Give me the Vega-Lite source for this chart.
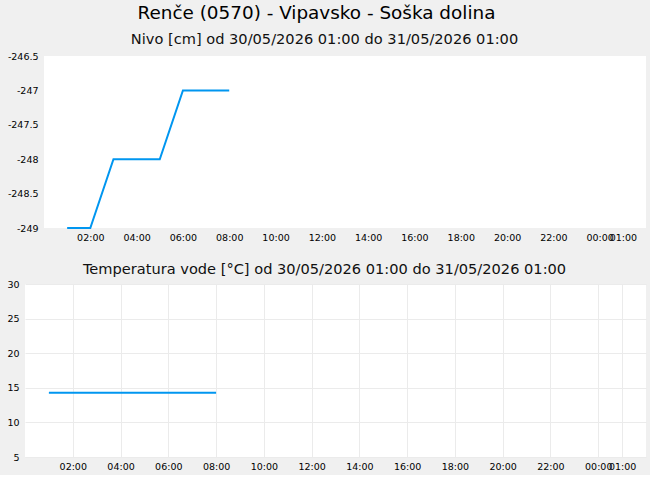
{
  "$schema": "https://vega.github.io/schema/vega-lite/v6.json",
  "background": "#f0f0f0",
  "padding": {"left": 6, "top": 4, "right": 5, "bottom": 4},
  "title": {
    "text": "Renče (0570) - Vipavsko - Soška dolina",
    "font": "DejaVu Sans",
    "fontSize": 18.4,
    "fontWeight": "normal",
    "color": "#000000",
    "anchor": "middle",
    "dx": -10,
    "offset": 10
  },
  "datasets": {
    "nivo": [
      {"cas": "2026-05-30T01:00:00", "nivo": -249},
      {"cas": "2026-05-30T02:00:00", "nivo": -249},
      {"cas": "2026-05-30T03:00:00", "nivo": -248},
      {"cas": "2026-05-30T04:00:00", "nivo": -248},
      {"cas": "2026-05-30T05:00:00", "nivo": -248},
      {"cas": "2026-05-30T06:00:00", "nivo": -247},
      {"cas": "2026-05-30T07:00:00", "nivo": -247},
      {"cas": "2026-05-30T08:00:00", "nivo": -247}
    ],
    "temp": [
      {"cas": "2026-05-30T01:00:00", "temp": 14.3},
      {"cas": "2026-05-30T02:00:00", "temp": 14.3},
      {"cas": "2026-05-30T03:00:00", "temp": 14.3},
      {"cas": "2026-05-30T04:00:00", "temp": 14.3},
      {"cas": "2026-05-30T05:00:00", "temp": 14.3},
      {"cas": "2026-05-30T06:00:00", "temp": 14.3},
      {"cas": "2026-05-30T07:00:00", "temp": 14.3},
      {"cas": "2026-05-30T08:00:00", "temp": 14.3}
    ]
  },
  "spacing": 20,
  "vconcat": [
    {
      "title": {"text": "Nivo [cm] od 30/05/2026 01:00 do 31/05/2026 01:00", "offset": 4, "dx": -11},
      "width": 621,
      "height": 172,
      "view": {"fill": null, "stroke": null},
      "layer": [
        {
          "data": {"values": [{}]},
          "mark": {"type": "rect", "color": "#ffffff"},
          "encoding": {
            "x": {
              "datum": {"year": 2026, "month": 5, "date": 30, "hours": 0},
              "type": "temporal",
              "title": null,
              "scale": {
                "domain": [
                  {"year": 2026, "month": 5, "date": 29, "hours": 23, "minutes": 10, "seconds": 46},
                  {"year": 2026, "month": 5, "date": 31, "hours": 2}
                ]
              },
              "axis": {
                "zindex": 1,
                "format": "%H:%M",
                "values": [
                  {"year": 2026, "month": 5, "date": 30, "hours": 2},
                  {"year": 2026, "month": 5, "date": 30, "hours": 4},
                  {"year": 2026, "month": 5, "date": 30, "hours": 6},
                  {"year": 2026, "month": 5, "date": 30, "hours": 8},
                  {"year": 2026, "month": 5, "date": 30, "hours": 10},
                  {"year": 2026, "month": 5, "date": 30, "hours": 12},
                  {"year": 2026, "month": 5, "date": 30, "hours": 14},
                  {"year": 2026, "month": 5, "date": 30, "hours": 16},
                  {"year": 2026, "month": 5, "date": 30, "hours": 18},
                  {"year": 2026, "month": 5, "date": 30, "hours": 20},
                  {"year": 2026, "month": 5, "date": 30, "hours": 22},
                  {"year": 2026, "month": 5, "date": 31, "hours": 0},
                  {"year": 2026, "month": 5, "date": 31, "hours": 1}
                ]
              }
            },
            "x2": {"datum": {"year": 2026, "month": 5, "date": 31, "hours": 2}},
            "y": {
              "datum": -249,
              "type": "quantitative",
              "title": null,
              "scale": {"domain": [-249, -246.5], "nice": false, "zero": false},
              "axis": {
                "zindex": 1,
                "offset": -19,
                "values": [-249, -248.5, -248, -247.5, -247, -246.5],
                "format": "~g",
                "labelExpr": "replace(datum.label, '\u2212', '-')"
              }
            },
            "y2": {"datum": -246.5}
          }
        },
        {
          "data": {"name": "nivo"},
          "mark": {"type": "line", "color": "#0096f0", "strokeWidth": 2},
          "encoding": {
            "x": {
              "field": "cas",
              "type": "temporal",
              "title": null,
              "scale": {
                "domain": [
                  {"year": 2026, "month": 5, "date": 29, "hours": 23, "minutes": 10, "seconds": 46},
                  {"year": 2026, "month": 5, "date": 31, "hours": 2}
                ]
              },
              "axis": {
                "zindex": 1,
                "format": "%H:%M",
                "values": [
                  {"year": 2026, "month": 5, "date": 30, "hours": 2},
                  {"year": 2026, "month": 5, "date": 30, "hours": 4},
                  {"year": 2026, "month": 5, "date": 30, "hours": 6},
                  {"year": 2026, "month": 5, "date": 30, "hours": 8},
                  {"year": 2026, "month": 5, "date": 30, "hours": 10},
                  {"year": 2026, "month": 5, "date": 30, "hours": 12},
                  {"year": 2026, "month": 5, "date": 30, "hours": 14},
                  {"year": 2026, "month": 5, "date": 30, "hours": 16},
                  {"year": 2026, "month": 5, "date": 30, "hours": 18},
                  {"year": 2026, "month": 5, "date": 30, "hours": 20},
                  {"year": 2026, "month": 5, "date": 30, "hours": 22},
                  {"year": 2026, "month": 5, "date": 31, "hours": 0},
                  {"year": 2026, "month": 5, "date": 31, "hours": 1}
                ]
              }
            },
            "y": {
              "field": "nivo",
              "type": "quantitative",
              "title": null,
              "scale": {"domain": [-249, -246.5], "nice": false, "zero": false},
              "axis": {
                "zindex": 1,
                "offset": -19,
                "values": [-249, -248.5, -248, -247.5, -247, -246.5],
                "format": "~g",
                "labelExpr": "replace(datum.label, '\u2212', '-')"
              }
            }
          }
        }
      ]
    },
    {
      "title": {"text": "Temperatura vode [°C] od 30/05/2026 01:00 do 31/05/2026 01:00", "offset": 2, "dx": -11},
      "width": 621,
      "height": 173,
      "data": {"name": "temp"},
      "mark": {"type": "line", "color": "#0096f0", "strokeWidth": 2},
      "encoding": {
        "x": {
          "field": "cas",
          "type": "temporal",
          "title": null,
          "scale": {
            "domain": [
              {"year": 2026, "month": 5, "date": 30, "hours": 0},
              {"year": 2026, "month": 5, "date": 31, "hours": 2}
            ]
          },
          "axis": {
            "format": "%H:%M",
            "values": [
              {"year": 2026, "month": 5, "date": 30, "hours": 2},
              {"year": 2026, "month": 5, "date": 30, "hours": 4},
              {"year": 2026, "month": 5, "date": 30, "hours": 6},
              {"year": 2026, "month": 5, "date": 30, "hours": 8},
              {"year": 2026, "month": 5, "date": 30, "hours": 10},
              {"year": 2026, "month": 5, "date": 30, "hours": 12},
              {"year": 2026, "month": 5, "date": 30, "hours": 14},
              {"year": 2026, "month": 5, "date": 30, "hours": 16},
              {"year": 2026, "month": 5, "date": 30, "hours": 18},
              {"year": 2026, "month": 5, "date": 30, "hours": 20},
              {"year": 2026, "month": 5, "date": 30, "hours": 22},
              {"year": 2026, "month": 5, "date": 31, "hours": 0},
              {"year": 2026, "month": 5, "date": 31, "hours": 1}
            ]
          }
        },
        "y": {
          "field": "temp",
          "type": "quantitative",
          "title": null,
          "scale": {"domain": [5, 30], "nice": false, "zero": false},
          "axis": {"values": [5, 10, 15, 20, 25, 30]}
        }
      }
    }
  ],
  "config": {
    "font": "DejaVu Sans",
    "view": {"fill": "#ffffff", "stroke": null},
    "title": {
      "font": "DejaVu Sans",
      "fontSize": 14.6,
      "fontWeight": "normal",
      "color": "#111111",
      "anchor": "middle"
    },
    "axis": {
      "domain": false,
      "ticks": false,
      "gridColor": "#ebebeb",
      "gridWidth": 1,
      "labelFont": "DejaVu Sans",
      "labelFontSize": 9.5,
      "labelColor": "#000000",
      "labelPadding": 4,
      "labelOverlap": false,
      "labelBound": false
    },
    "axisY": {"labelPadding": 6}
  }
}
